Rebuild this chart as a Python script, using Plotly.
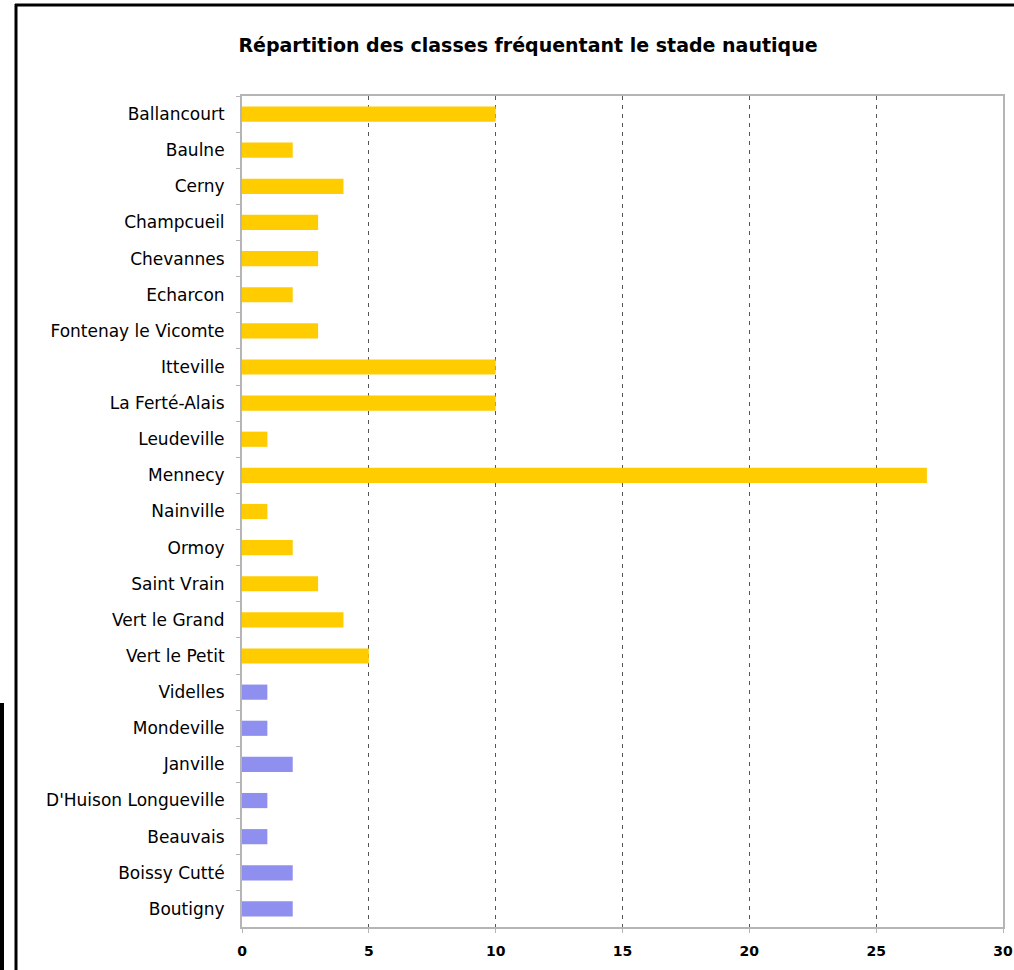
import plotly.graph_objects as go

communes_jaunes = ["Ballancourt", "Baulne", "Cerny", "Champcueil", "Chevannes", "Echarcon",
                   "Fontenay le Vicomte", "Itteville", "La Ferté-Alais", "Leudeville", "Mennecy",
                   "Nainville", "Ormoy", "Saint Vrain", "Vert le Grand", "Vert le Petit"]
classes_jaunes = [10, 2, 4, 3, 3, 2, 3, 10, 10, 1, 27, 1, 2, 3, 4, 5]

communes_bleues = ["Videlles", "Mondeville", "Janville", "D'Huison Longueville", "Beauvais",
                   "Boissy Cutté", "Boutigny"]
classes_bleues = [1, 1, 2, 1, 1, 2, 2]

x_ticks = [0, 5, 10, 15, 20, 25, 30]

W, H = 1014, 970
L, R, T, B = 242, 1003, 96, 927

fig = go.Figure()
fig.add_trace(go.Bar(y=communes_jaunes, x=classes_jaunes, orientation="h",
                     marker=dict(color="#FFCC00", line=dict(width=0)), width=0.42))
fig.add_trace(go.Bar(y=communes_bleues, x=classes_bleues, orientation="h",
                     marker=dict(color="#8F8FF0", line=dict(width=0)), width=0.42))

def px_x(p):
    return (p - L) / (R - L)

def px_y(p):
    return (B - p) / (B - T)

shapes = [
    dict(type="line", xref="paper", yref="paper", x0=px_x(16), x1=px_x(16), y0=px_y(4), y1=px_y(975),
         line=dict(color="black", width=3)),
    dict(type="line", xref="paper", yref="paper", x0=px_x(15), x1=px_x(1020), y0=px_y(5), y1=px_y(5),
         line=dict(color="black", width=3)),
    dict(type="line", xref="paper", yref="paper", x0=px_x(2), x1=px_x(2), y0=px_y(703), y1=px_y(975),
         line=dict(color="black", width=4)),
]

fig.update_layout(
    width=W, height=H,
    autosize=False,
    margin=dict(l=L, r=W - R, t=T, b=H - B, autoexpand=False),
    paper_bgcolor="white", plot_bgcolor="white",
    showlegend=False,
    shapes=shapes,
    title=dict(text="<b>Répartition des classes fréquentant le stade nautique</b>",
               x=528 / W, xanchor="center",
               y=1 - 45 / H, yanchor="middle",
               font=dict(family="DejaVu Sans", size=19, color="black")),
    font=dict(family="DejaVu Sans", size=13, color="black"),
    xaxis=dict(range=[0, 30], tickvals=x_ticks, ticktext=[str(v) for v in x_ticks],
               showgrid=True, gridcolor="#555555", griddash="4px,5px", gridwidth=1,
               showline=True, linecolor="#b5b5b5", linewidth=2, mirror=True,
               ticks="outside", ticklen=4, tickcolor="#b5b5b5",
               ticklabelstandoff=6, automargin=False,
               zeroline=False, tickfont=dict(size=14, weight="bold")),
    yaxis=dict(categoryorder="array", categoryarray=communes_jaunes + communes_bleues,
               autorange="reversed", showgrid=False,
               showline=True, linecolor="#b5b5b5", linewidth=2, mirror=True,
               ticks="outside", ticklen=4, tickcolor="#b5b5b5", tickson="boundaries",
               ticklabelstandoff=12, automargin=False, tickfont=dict(size=17)),
)

fig.write_html("out.html", config={"displayModeBar": False},
               post_script="document.body.style.margin='0';document.body.style.overflow='hidden';")
